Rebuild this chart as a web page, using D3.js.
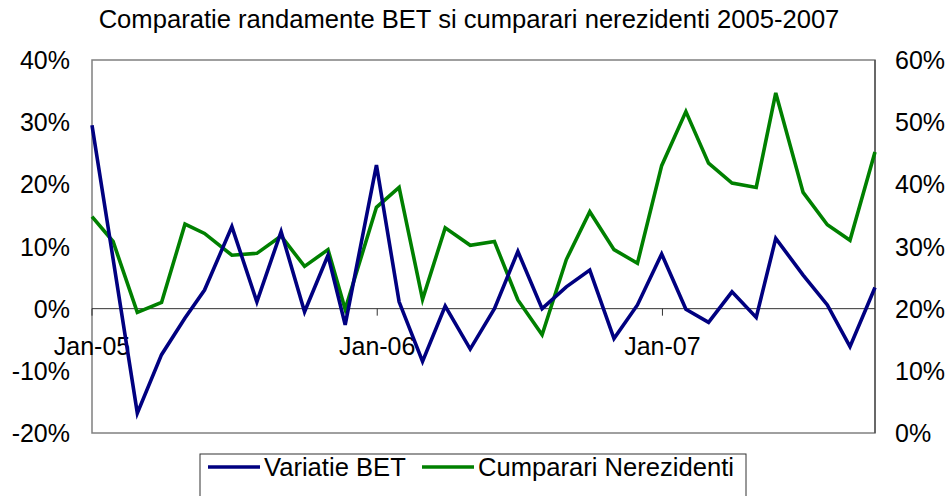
<!DOCTYPE html>
<html>
<head>
<meta charset="utf-8">
<script src="https://cdn.jsdelivr.net/npm/d3@7"></script>
<style>
  html, body { margin: 0; padding: 0; background: #fff; }
  svg { display: block; font-family: "Liberation Sans", Arial, sans-serif; }
</style>
</head>
<body>
<svg id="chart" width="948" height="496"></svg>
<script>
// ---- data ----
const dates = [
  "2005-01-01","2005-01-28","2005-02-28","2005-03-31","2005-04-30","2005-05-25",
  "2005-06-29","2005-07-31","2005-08-31","2005-09-30","2005-10-30","2005-11-21",
  "2005-12-31","2006-01-29","2006-02-28","2006-03-29","2006-04-30","2006-05-31",
  "2006-06-30","2006-07-31","2006-08-31","2006-09-30","2006-10-31","2006-11-30",
  "2006-12-31","2007-01-31","2007-03-01","2007-03-31","2007-05-01","2007-05-26",
  "2007-06-30","2007-07-31","2007-08-29","2007-09-30"
];
const variatieBET = [
  29.5, 8, -16.8, -7.4, -1.5, 3.0, 13.2, 1.1, 12.4, -0.5, 8.6, -2.6,
  23.1, 1.1, -8.5, 0.4, -6.5, 0, 9.2, 0, 3.5, 6.2, -4.8, 0.6,
  8.8, -0.1, -2.2, 2.7, -1.4, 11.3, 5.4, 0.6, -6.1, 3.4
];
const cumparariNerezidenti = [
  34.8, 30.8, 19.4, 21.0, 33.6, 32.1, 28.6, 28.9, 31.7, 26.8, 29.5, 19.9,
  36.3, 39.5, 21.5, 33.0, 30.2, 30.8, 21.4, 15.8, 27.9, 35.6, 29.5, 27.3,
  43.0, 51.7, 43.4, 40.2, 39.5, 54.7, 38.7, 33.5, 31.0, 45.2
];
const leftTicks = [-20, -10, 0, 10, 20, 30, 40];
const rightTicks = [0, 10, 20, 30, 40, 50, 60];
const xTickDates = ["2005-01-01", "2006-01-01", "2007-01-01"];
const xTickLabels = ["Jan-05", "Jan-06", "Jan-07"];
const seriesNames = ["Variatie BET", "Cumparari Nerezidenti"];
const title = "Comparatie randamente BET si cumparari nerezidenti 2005-2007";

// ---- layout ----
const svg = d3.select("#chart");
const parse = d3.utcParse("%Y-%m-%d");
const plot = { left: 92, right: 875, top: 60, bottom: 433 };
const FS = 25;
const FS_BIG = 25.6;
const blue = "#000080", green = "#008000";

const x = d3.scaleUtc()
  .domain([parse(dates[0]), parse(dates[dates.length - 1])])
  .range([plot.left, plot.right]);
const yL = d3.scaleLinear().domain([-20, 40]).range([plot.bottom, plot.top]);
const yR = d3.scaleLinear().domain([0, 60]).range([plot.bottom, plot.top]);

// title
svg.append("text")
  .attr("x", 469).attr("y", 28)
  .attr("text-anchor", "middle")
  .attr("font-size", FS_BIG)
  .attr("fill", "#000")
  .text(title);

// plot frame
svg.append("rect")
  .attr("x", plot.left).attr("y", plot.top)
  .attr("width", plot.right - plot.left)
  .attr("height", plot.bottom - plot.top)
  .attr("fill", "none")
  .attr("stroke", "#808080")
  .attr("stroke-width", 1.5);

// right axis line
svg.append("line")
  .attr("x1", plot.right).attr("x2", plot.right)
  .attr("y1", plot.top).attr("y2", plot.bottom)
  .attr("stroke", "#333").attr("stroke-width", 1);

// zero line (category axis)
svg.append("line")
  .attr("x1", plot.left).attr("x2", plot.right)
  .attr("y1", yL(0)).attr("y2", yL(0))
  .attr("stroke", "#333").attr("stroke-width", 1);

// x ticks and labels
const xg = svg.append("g");
xTickDates.forEach((d, i) => {
  const px = x(parse(d));
  xg.append("line")
    .attr("x1", px).attr("x2", px)
    .attr("y1", yL(0)).attr("y2", yL(0) + 7)
    .attr("stroke", "#333").attr("stroke-width", 1);
  xg.append("text")
    .attr("x", px).attr("y", 355)
    .attr("text-anchor", "middle")
    .attr("font-size", FS)
    .text(xTickLabels[i]);
});

// left axis labels
svg.append("g").selectAll("text").data(leftTicks).join("text")
  .attr("x", 70).attr("y", d => yL(d))
  .attr("dy", "0.36em")
  .attr("text-anchor", "end")
  .attr("font-size", FS)
  .text(d => d + "%");

// right axis labels
svg.append("g").selectAll("text").data(rightTicks).join("text")
  .attr("x", 895).attr("y", d => yR(d))
  .attr("dy", "0.36em")
  .attr("text-anchor", "start")
  .attr("font-size", FS)
  .text(d => d + "%");

// lines
const lineL = d3.line().x((d, i) => x(parse(dates[i]))).y(d => yL(d));
const lineR = d3.line().x((d, i) => x(parse(dates[i]))).y(d => yR(d));

svg.append("path").datum(cumparariNerezidenti)
  .attr("d", lineR).attr("fill", "none")
  .attr("stroke", green).attr("stroke-width", 3.6)
  .attr("stroke-linejoin", "miter");
svg.append("path").datum(variatieBET)
  .attr("d", lineL).attr("fill", "none")
  .attr("stroke", blue).attr("stroke-width", 3.6)
  .attr("stroke-linejoin", "miter");

// legend
const lg = svg.append("g");
lg.append("rect")
  .attr("x", 200).attr("y", 454)
  .attr("width", 546).attr("height", 50)
  .attr("fill", "#fff").attr("stroke", "#333").attr("stroke-width", 1);
const legendItems = [
  { name: seriesNames[0], color: blue, x1: 208, x2: 260, tx: 264 },
  { name: seriesNames[1], color: green, x1: 422, x2: 474, tx: 478 }
];
legendItems.forEach(it => {
  lg.append("line")
    .attr("x1", it.x1).attr("x2", it.x2)
    .attr("y1", 467).attr("y2", 467)
    .attr("stroke", it.color).attr("stroke-width", 3.6);
  lg.append("text")
    .attr("x", it.tx).attr("y", 476)
    .attr("font-size", FS_BIG)
    .text(it.name);
});
</script>
</body>
</html>
